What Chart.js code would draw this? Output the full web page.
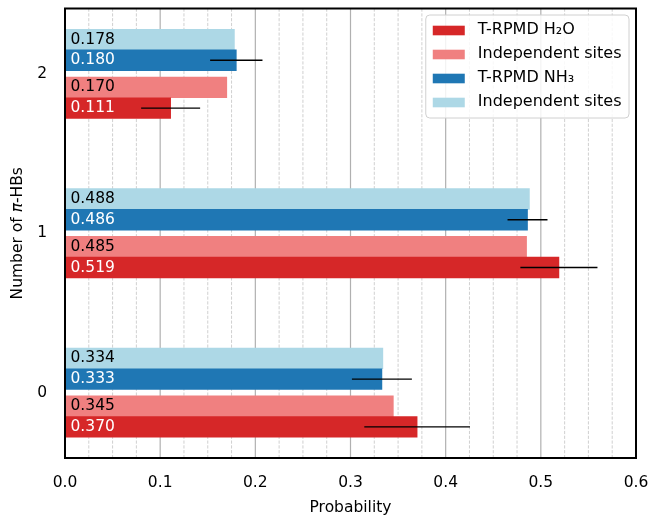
<!DOCTYPE html>
<html>
<head>
<meta charset="utf-8">
<script src="https://cdn.jsdelivr.net/npm/chart.js@4"></script>
<style>
  html, body { margin: 0; padding: 0; background: #ffffff; }
  #wrap { width: 652px; height: 517px; }
</style>
</head>
<body>
<div id="wrap"><canvas id="chart" width="652" height="517"></canvas></div>
<script>
// Number of pi-hydrogen bonds per molecule
const categories = [0, 1, 2];

// Probabilities per category (0, 1, 2)
const trpmdH2O = [0.370, 0.519, 0.111];
const indepH2O = [0.345, 0.485, 0.170];
const trpmdNH3 = [0.333, 0.486, 0.180];
const indepNH3 = [0.334, 0.488, 0.178];

// Statistical uncertainty of the T-RPMD estimates
const errH2O = [0.0555, 0.0405, 0.031];
const errNH3 = [0.0315, 0.021, 0.0275];

// Axis ticks
const xTicks = [0.0, 0.1, 0.2, 0.3, 0.4, 0.5, 0.6];
const xMinorStep = 0.025;

// y-axis title pieces: plain, italic symbol, plain
const yTitleParts = [['Number of ', false], ['\u03c0', true], ['-HBs', false]];

const FONT = '"DejaVu Sans", "Liberation Sans", sans-serif';
const FS = 15.5;

// Series drawing order (bottom to top inside each group) and styling
const series = [
  { label: 'T-RPMD H\u2082O',   values: trpmdH2O, err: errH2O, color: '#d62728', shift: -0.215, text: '#ffffff' },
  { label: 'Independent sites', values: indepH2O, err: null,   color: '#f08080', shift: -0.085, text: '#000000' },
  { label: 'T-RPMD NH\u2083',   values: trpmdNH3, err: errNH3, color: '#1f77b4', shift:  0.085, text: '#ffffff' },
  { label: 'Independent sites', values: indepNH3, err: null,   color: '#add8e6', shift:  0.215, text: '#000000' }
];

const datasets = series.map(s => ({
  label: s.label,
  data: s.values.map((v, i) => ({ x: v, y: categories[i] + s.shift })),
  backgroundColor: s.color,
  borderWidth: 0,
  barThickness: 20.7
}));

const decor = {
  id: 'decor',
  beforeDatasetsDraw(chart) {
    const { ctx, chartArea: a, scales: { x } } = chart;
    ctx.save();
    // minor dashed grid
    ctx.strokeStyle = '#c4c4c4';
    ctx.lineWidth = 0.8;
    ctx.setLineDash([3.2, 1.6]);
    const nMinor = Math.round((x.max - x.min) / xMinorStep);
    for (let k = 0; k <= nMinor; k++) {
      if (k % 4 === 0) continue;
      const px = x.getPixelForValue(x.min + k * xMinorStep);
      ctx.beginPath();
      ctx.moveTo(px, a.top);
      ctx.lineTo(px, a.bottom);
      ctx.stroke();
    }
    // major solid grid
    ctx.setLineDash([]);
    ctx.strokeStyle = '#b0b0b0';
    ctx.lineWidth = 1.2;
    xTicks.forEach(t => {
      const px = x.getPixelForValue(t);
      ctx.beginPath();
      ctx.moveTo(px, a.top);
      ctx.lineTo(px, a.bottom);
      ctx.stroke();
    });
    ctx.restore();
  },
  afterDatasetsDraw(chart) {
    const { ctx, chartArea: a, scales: { x } } = chart;
    ctx.save();

    // value labels inside the bars
    ctx.font = FS + 'px ' + FONT;
    ctx.textAlign = 'left';
    ctx.textBaseline = 'middle';
    series.forEach((s, di) => {
      const meta = chart.getDatasetMeta(di);
      meta.data.forEach((bar, i) => {
        ctx.fillStyle = s.text;
        ctx.fillText(s.values[i].toFixed(3), a.left + 5.5, bar.y);
      });
    });

    // error bars
    ctx.strokeStyle = '#000000';
    ctx.lineWidth = 1.4;
    series.forEach((s, di) => {
      if (!s.err) return;
      const meta = chart.getDatasetMeta(di);
      meta.data.forEach((bar, i) => {
        const x0 = x.getPixelForValue(s.values[i] - s.err[i]);
        const x1 = x.getPixelForValue(s.values[i] + s.err[i]);
        ctx.beginPath();
        ctx.moveTo(x0, bar.y);
        ctx.lineTo(x1, bar.y);
        ctx.stroke();
      });
    });

    // frame
    ctx.strokeStyle = '#000000';
    ctx.lineWidth = 2;
    ctx.strokeRect(a.left, a.top, a.right - a.left, a.bottom - a.top);

    // legend
    ctx.font = '16px ' + FONT;
    const textW = Math.max(...series.map(s => ctx.measureText(s.label).width));
    const padL = 7, sw = 32, gap = 13, padR = 7.5, rowH = 24, firstRow = 15.5;
    const w = padL + sw + gap + textW + padR;
    const h = firstRow * 2 + rowH * (series.length - 1);
    const right = a.right - 7;
    const left = right - w;
    const top = a.top + 6.5;
    ctx.beginPath();
    ctx.roundRect(left, top, w, h, 4);
    ctx.fillStyle = 'rgba(255,255,255,0.85)';
    ctx.fill();
    ctx.strokeStyle = '#d0d0d0';
    ctx.lineWidth = 1;
    ctx.stroke();
    series.forEach((s, i) => {
      const cy = top + firstRow + i * rowH;
      ctx.fillStyle = s.color;
      ctx.fillRect(left + padL, cy - 4.8, sw, 9.6);
      ctx.fillStyle = '#000000';
      ctx.textBaseline = 'middle';
      ctx.fillText(s.label, left + padL + sw + gap, cy - 0.5);
    });

    ctx.restore();
  },
  afterDraw(chart) {
    // rotated y-axis title with an italic pi
    const { ctx, chartArea: a } = chart;
    const fontFor = it => (it ? 'italic ' : '') + FS + 'px ' + FONT;
    ctx.save();
    const widths = yTitleParts.map(([t, it]) => { ctx.font = fontFor(it); return ctx.measureText(t).width; });
    const total = widths.reduce((p, q) => p + q, 0);
    ctx.translate(18.3, (a.top + a.bottom) / 2);
    ctx.rotate(-Math.PI / 2);
    ctx.fillStyle = '#000000';
    ctx.textAlign = 'left';
    ctx.textBaseline = 'middle';
    let cx = -total / 2;
    yTitleParts.forEach(([t, it], k) => {
      ctx.font = fontFor(it);
      ctx.fillText(t, cx, 0);
      cx += widths[k];
    });
    ctx.restore();
  }
};

new Chart(document.getElementById('chart'), {
  type: 'bar',
  data: { datasets },
  plugins: [decor],
  options: {
    indexAxis: 'y',
    responsive: false,
    animation: false,
    events: [],
    grouped: false,
    layout: { padding: { left: 0, top: 8.5, right: 16, bottom: 0 } },
    plugins: { legend: { display: false }, tooltip: { enabled: false } },
    scales: {
      x: {
        type: 'linear',
        min: xTicks[0],
        max: xTicks[xTicks.length - 1],
        afterBuildTicks(scale) { scale.ticks = xTicks.map(v => ({ value: v })); },
        afterFit(scale) { scale.height = 59; },
        grid: { display: false, drawTicks: true, tickLength: 15.8 },
        border: { display: false },
        ticks: {
          padding: 0,
          color: '#000000',
          font: { family: FONT, size: FS },
          maxRotation: 0,
          autoSkip: false,
          callback: v => Number(v).toFixed(1)
        },
        title: {
          display: true,
          text: 'Probability',
          color: '#000000',
          font: { family: FONT, size: FS },
          padding: { top: 0, bottom: 0 }
        }
      },
      y: {
        type: 'linear',
        min: -0.41,
        max: 2.41,
        offset: false,
        afterBuildTicks(scale) { scale.ticks = categories.map(v => ({ value: v })); },
        afterFit(scale) { scale.width = 65; },
        grid: { display: false, offset: false, drawTicks: true, tickLength: 18 },
        border: { display: false },
        ticks: {
          padding: 0,
          color: '#000000',
          font: { family: FONT, size: FS, lineHeight: 1 },
          autoSkip: false,
          callback: v => String(v)
        },
        title: { display: false }
      }
    }
  }
});
</script>
</body>
</html>
